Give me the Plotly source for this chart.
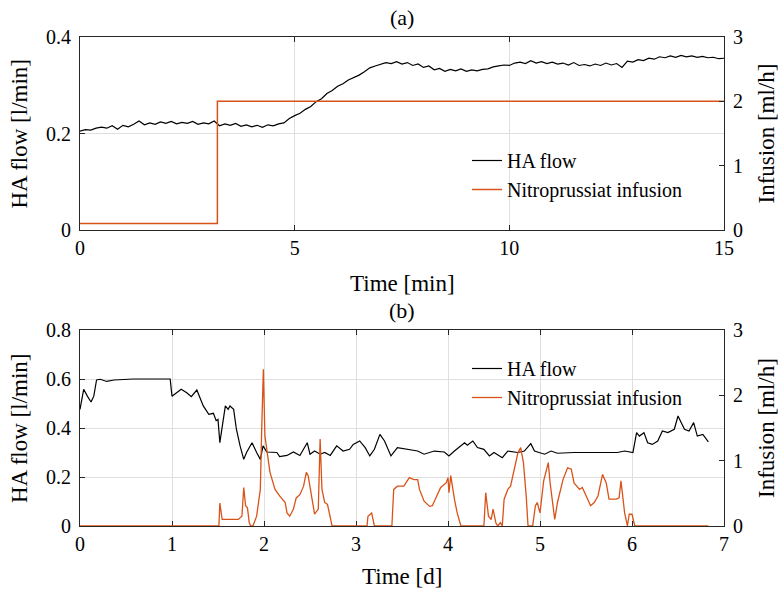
import plotly.graph_objects as go
from plotly.subplots import make_subplots

# ---------------- Panel (a) data ----------------
t_min = [i * 0.125 for i in range(121)]
ha_flow_a = [
    0.205, 0.208, 0.207, 0.211, 0.213, 0.211, 0.216, 0.209, 0.217, 0.214,
    0.219, 0.226, 0.218, 0.222, 0.219, 0.224, 0.221, 0.225, 0.220, 0.223,
    0.221, 0.225, 0.219, 0.222, 0.220, 0.226, 0.216, 0.220, 0.217, 0.221,
    0.215, 0.218, 0.214, 0.217, 0.213, 0.218, 0.216, 0.220, 0.222, 0.231,
    0.237, 0.242, 0.250, 0.256, 0.266, 0.272, 0.283, 0.289, 0.298, 0.303,
    0.311, 0.316, 0.321, 0.328, 0.336, 0.340, 0.343, 0.347, 0.345, 0.349,
    0.344, 0.347, 0.341, 0.344, 0.337, 0.340, 0.332, 0.335, 0.329, 0.333,
    0.330, 0.334, 0.329, 0.332, 0.330, 0.333, 0.334, 0.338, 0.340, 0.342,
    0.341, 0.346, 0.348, 0.345, 0.351, 0.346, 0.349, 0.345, 0.348, 0.344,
    0.346, 0.342, 0.347, 0.341, 0.343, 0.340, 0.344, 0.341, 0.346, 0.342,
    0.345, 0.337, 0.350, 0.348, 0.353, 0.351, 0.356, 0.354, 0.359, 0.357,
    0.361, 0.358, 0.362, 0.359, 0.361, 0.358, 0.360, 0.357, 0.358, 0.355,
    0.356,
]
inf_t_a = [0.0, 3.2, 15.0]
inf_a = [0.1, 2.0, 2.0]

# ---------------- Panel (b) data ----------------
t_day_ha = [
    0.00, 0.04, 0.08, 0.12, 0.15, 0.18, 0.22, 0.29, 0.37, 0.58, 0.96, 0.98,
    1.00, 1.05, 1.10, 1.16, 1.21, 1.27, 1.30, 1.34, 1.40, 1.45, 1.48, 1.50,
    1.52, 1.55, 1.58, 1.61, 1.63, 1.67, 1.70, 1.74, 1.78, 1.81, 1.87, 1.92,
    1.96, 1.99, 2.03, 2.14, 2.17, 2.25, 2.32, 2.39, 2.44, 2.47, 2.50, 2.55,
    2.61, 2.66, 2.72, 2.79, 2.86, 2.93, 2.97, 3.04, 3.10, 3.15, 3.20, 3.26,
    3.31, 3.38, 3.45, 3.56, 3.67, 3.74, 3.85, 3.96, 4.01, 4.07, 4.18, 4.21,
    4.27, 4.32, 4.39, 4.45, 4.50, 4.59, 4.65, 4.76, 4.83, 4.90, 4.94, 5.05,
    5.12, 5.19, 5.37, 5.60, 5.84, 5.92, 5.99, 6.01, 6.05, 6.08, 6.13, 6.17,
    6.22, 6.28, 6.33, 6.39, 6.46, 6.50, 6.57, 6.62, 6.67, 6.71, 6.77, 6.83,
]
ha_flow_b = [
    0.476, 0.558, 0.530, 0.506, 0.530, 0.596, 0.599, 0.590, 0.596, 0.600, 0.600, 0.600,
    0.530, 0.544, 0.558, 0.544, 0.528, 0.555, 0.530, 0.490, 0.456, 0.460, 0.430, 0.435,
    0.340, 0.420, 0.490, 0.476, 0.490, 0.476, 0.395, 0.327, 0.272, 0.300, 0.340, 0.300,
    0.272, 0.327, 0.302, 0.300, 0.283, 0.288, 0.302, 0.288, 0.320, 0.340, 0.293, 0.306,
    0.293, 0.300, 0.288, 0.327, 0.306, 0.313, 0.333, 0.347, 0.320, 0.286, 0.313, 0.374,
    0.347, 0.286, 0.320, 0.313, 0.306, 0.293, 0.306, 0.302, 0.286, 0.306, 0.340, 0.330,
    0.347, 0.320, 0.313, 0.286, 0.300, 0.279, 0.306, 0.300, 0.306, 0.336, 0.306, 0.293,
    0.306, 0.297, 0.300, 0.300, 0.300, 0.306, 0.300, 0.300, 0.381, 0.367, 0.381, 0.340,
    0.333, 0.347, 0.388, 0.381, 0.395, 0.449, 0.395, 0.388, 0.422, 0.367, 0.374, 0.343,
]
t_day_inf = [
    0.00, 1.51, 1.52, 1.545, 1.72, 1.76, 1.78, 1.80, 1.82, 1.84, 1.855, 1.88,
    1.92, 1.96, 1.975, 1.993, 2.01, 2.065, 2.12, 2.17, 2.23, 2.25, 2.28, 2.32,
    2.35, 2.39, 2.43, 2.46, 2.48, 2.52, 2.55, 2.59, 2.61, 2.63, 2.66, 2.69,
    2.72, 2.74, 3.12, 3.13, 3.17, 3.20, 3.39, 3.41, 3.45, 3.52, 3.58, 3.63,
    3.67, 3.69, 3.74, 3.80, 3.83, 3.89, 3.92, 3.98, 4.00, 4.01, 4.03, 4.07,
    4.10, 4.14, 4.39, 4.41, 4.44, 4.47, 4.49, 4.52, 4.54, 4.57, 4.59, 4.61,
    4.65, 4.68, 4.72, 4.76, 4.79, 4.82, 4.85, 4.87, 4.92, 4.95, 4.97, 5.00,
    5.04, 5.06, 5.09, 5.11, 5.14, 5.16, 5.19, 5.25, 5.30, 5.34, 5.37, 5.43,
    5.46, 5.50, 5.55, 5.59, 5.63, 5.68, 5.72, 5.75, 5.83, 5.86, 5.88, 5.92,
    5.95, 5.97, 6.00, 6.03, 6.83,
]
inf_b = [
    0.00, 0.00, 0.35, 0.10, 0.10, 0.15, 0.59, 0.31, 0.28, 0.05, 0.00, 0.00,
    0.15, 0.56, 1.48, 2.40, 1.38, 0.82, 0.56, 0.46, 0.36, 0.20, 0.15, 0.26,
    0.43, 0.48, 0.61, 0.82, 0.77, 0.41, 0.18, 0.26, 1.33, 0.56, 0.36, 0.33,
    0.15, 0.00, 0.00, 0.15, 0.20, 0.00, 0.00, 0.56, 0.61, 0.61, 0.74, 0.71,
    0.71, 0.56, 0.38, 0.30, 0.31, 0.51, 0.59, 0.66, 0.74, 0.51, 0.77, 0.41,
    0.20, 0.00, 0.00, 0.51, 0.15, 0.10, 0.26, 0.05, 0.00, 0.05, 0.00, 0.41,
    0.56, 0.61, 0.87, 1.12, 1.20, 0.97, 0.46, 0.00, 0.00, 0.31, 0.36, 0.20,
    0.69, 0.82, 0.97, 0.66, 0.36, 0.10, 0.36, 0.71, 0.89, 0.87, 0.66, 0.56,
    0.59, 0.46, 0.31, 0.36, 0.46, 0.79, 0.66, 0.41, 0.41, 0.43, 0.69, 0.20,
    0.00, 0.18, 0.18, 0.00, 0.00,
]

# tick labels
xt_a = [0, 5, 10, 15]
yl_a = [0, 0.2, 0.4]
yl_a_txt = ["0", "0.2", "0.4"]
yr_ticks = [0, 1, 2, 3]
xt_b = [0, 1, 2, 3, 4, 5, 6, 7]
yl_b = [0, 0.2, 0.4, 0.6, 0.8]
yl_b_txt = ["0", "0.2", "0.4", "0.6", "0.8"]

BLACK = "#000000"
ORANGE = "#D95319"
AX = "#262626"
GRID = "#DFDFDF"
FONT = "Liberation Serif"

fig = make_subplots(rows=2, cols=1, specs=[[{"secondary_y": True}], [{"secondary_y": True}]])

fig.add_trace(go.Scatter(x=t_min, y=ha_flow_a, mode="lines", name="HA flow",
                         line=dict(color=BLACK, width=1.2), legend="legend"),
              row=1, col=1, secondary_y=False)
fig.add_trace(go.Scatter(x=inf_t_a, y=inf_a, mode="lines", name="Nitroprussiat infusion",
                         line=dict(color=ORANGE, width=1.5, shape="hv"), legend="legend"),
              row=1, col=1, secondary_y=True)
fig.add_trace(go.Scatter(x=t_day_ha, y=ha_flow_b, mode="lines", name="HA flow",
                         line=dict(color=BLACK, width=1.2), legend="legend2"),
              row=2, col=1, secondary_y=False)
fig.add_trace(go.Scatter(x=t_day_inf, y=inf_b, mode="lines", name="Nitroprussiat infusion",
                         line=dict(color=ORANGE, width=1.3), legend="legend2"),
              row=2, col=1, secondary_y=True)

W, H = 782, 592
x0, x1 = 80, 724
xdom = [x0 / W, x1 / W]
ydom_a = [1 - 230 / H, 1 - 37 / H]
ydom_b = [1 - 526 / H, 1 - 330 / H]

tickfont = dict(family=FONT, size=20, color="#000")
common_x = dict(showline=True, linecolor=AX, linewidth=1, mirror="ticks", ticks="inside",
                ticklen=5, tickcolor=AX, showgrid=True, gridcolor=GRID, gridwidth=1,
                zeroline=False, tickfont=tickfont, domain=xdom, automargin=False,
                layer="below traces")
common_yl = dict(showline=True, linecolor=AX, linewidth=1, ticks="inside", ticklen=5,
                 tickcolor=AX, showgrid=True, gridcolor=GRID, zeroline=False,
                 tickfont=tickfont, ticklabelstandoff=4, automargin=False)
common_yr = dict(showline=True, linecolor=AX, linewidth=1, ticks="inside", ticklen=5,
                 tickcolor=AX, showgrid=False, zeroline=False, tickfont=tickfont,
                 tickmode="array", tickvals=yr_ticks, ticktext=[str(v) for v in yr_ticks],
                 range=[0, 3], ticklabelstandoff=4, automargin=False)

fig.update_layout(
    xaxis=dict(common_x, range=[0, 15], tickmode="array", tickvals=xt_a,
               ticktext=[str(v) for v in xt_a]),
    yaxis=dict(common_yl, range=[0, 0.4], tickmode="array", tickvals=yl_a, ticktext=yl_a_txt,
               domain=ydom_a),
    yaxis2=dict(common_yr, domain=ydom_a),
    xaxis2=dict(common_x, range=[0, 7], tickmode="array", tickvals=xt_b,
                ticktext=[str(v) for v in xt_b]),
    yaxis3=dict(common_yl, range=[0, 0.8], tickmode="array", tickvals=yl_b, ticktext=yl_b_txt,
                domain=ydom_b),
    yaxis4=dict(common_yr, domain=ydom_b),
)

legfont = dict(family=FONT, size=20, color="#000")
fig.update_layout(
    width=W, height=H, margin=dict(l=0, r=0, t=0, b=0, autoexpand=False),
    paper_bgcolor="white", plot_bgcolor="white",
    showlegend=True,
    legend=dict(x=467 / W, y=1 - 141 / H, xanchor="left", yanchor="top",
                bgcolor="rgba(255,255,255,0)", borderwidth=0, font=legfont, tracegroupgap=0),
    legend2=dict(x=467 / W, y=1 - 349 / H, xanchor="left", yanchor="top",
                 bgcolor="rgba(255,255,255,0)", borderwidth=0, font=legfont, tracegroupgap=0),
)


def note(text, px, py, size=23, angle=0):
    return dict(text=text, x=px / W, y=1 - py / H, xref="paper", yref="paper",
                xanchor="center", yanchor="middle", showarrow=False, textangle=angle,
                font=dict(family=FONT, size=size, color="#000"))


ann = [
    note("(a)", 402, 17, 22),
    note("(b)", 402, 310, 22),
    note("Time [min]", 402, 283),
    note("Time [d]", 402, 576),
]
for yc in [(37 + 230) / 2, (330 + 526) / 2]:
    ann.append(note("HA flow [l/min]", 19, yc, angle=-90))
    ann.append(note("Infusion [ml/h]", 766, yc, angle=-90))
fig.update_layout(annotations=ann)

fig.write_html("out.html")
